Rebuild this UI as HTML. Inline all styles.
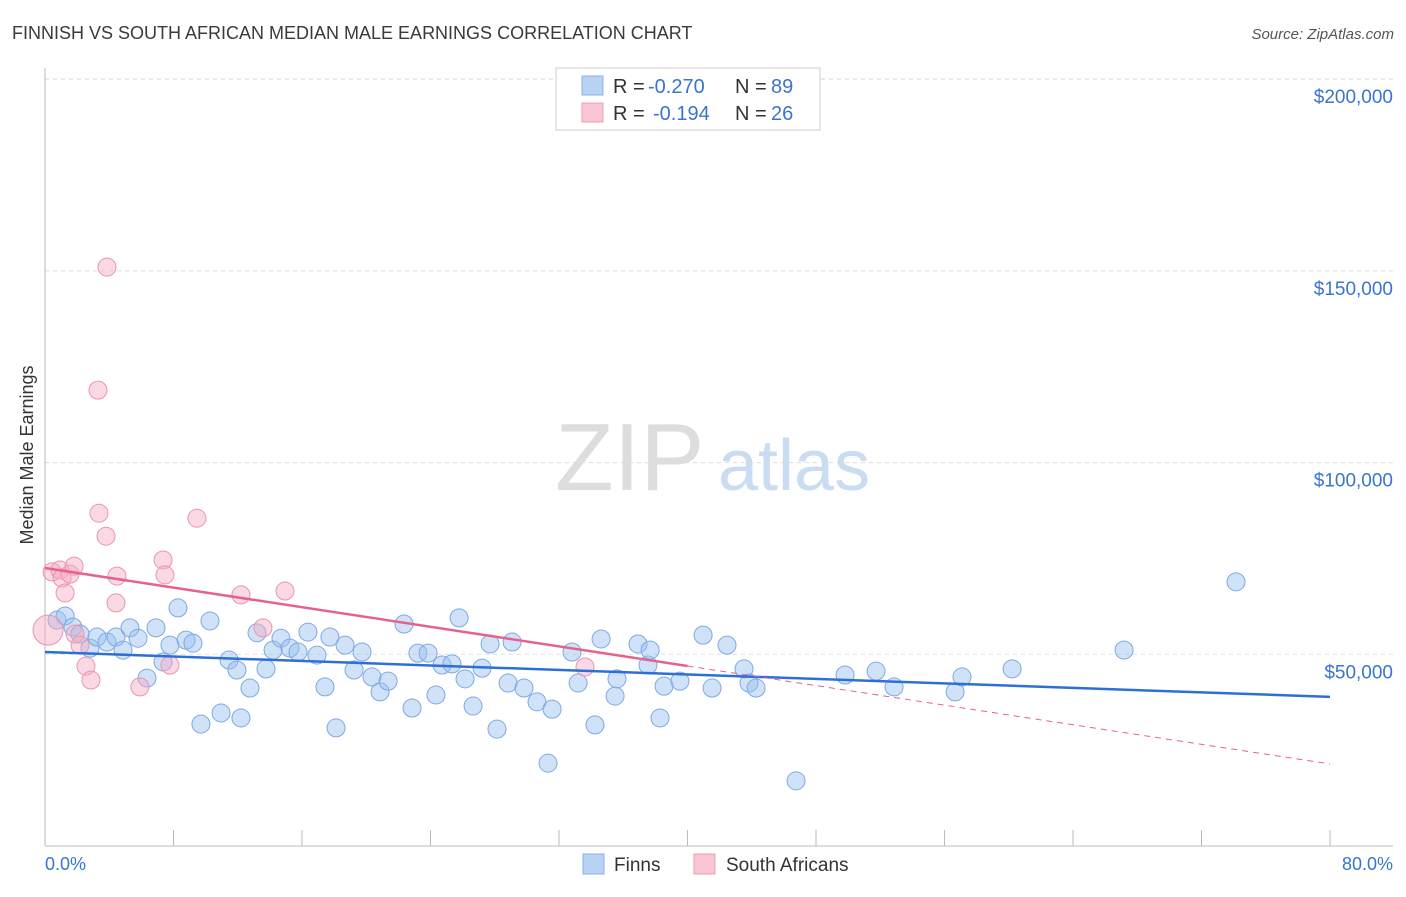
<!DOCTYPE html>
<html><head><meta charset="utf-8"><style>
body{margin:0;background:#fff;font-family:"Liberation Sans",sans-serif;}
svg text{font-family:"Liberation Sans",sans-serif;}
</style></head><body>
<svg id="c" width="1406" height="892" xmlns="http://www.w3.org/2000/svg">
<text x="12" y="39" font-size="18" fill="#3a3a3a">FINNISH VS SOUTH AFRICAN MEDIAN MALE EARNINGS CORRELATION CHART</text>
<text x="1394" y="39" font-size="15" fill="#555" text-anchor="end" font-style="italic">Source: ZipAtlas.com</text>
<text x="33" y="455" font-size="18" fill="#333" text-anchor="middle" transform="rotate(-90 33 455)">Median Male Earnings</text>
<text x="555" y="490" font-size="96" fill="#ddd" font-family="Liberation Serif">ZIP</text>
<text x="718" y="490" font-size="72" fill="#c9dcf2">atlas</text>
<g id="grid"></g><g id="axes"></g><g id="pts"></g><g id="trend"></g>
<g>
<rect x="556" y="68" width="264" height="62" fill="#fff" stroke="#ccc"/>
<rect x="582" y="76" width="21" height="19" fill="#b9d3f5" stroke="#8bb2e6"/>
<rect x="582" y="103" width="21" height="19" fill="#f9c6d4" stroke="#ec9fb5"/>
<text x="613" y="93" font-size="20" fill="#333">R =</text>
<text x="648" y="93" font-size="20" fill="#3a74d0">-0.270</text>
<text x="735" y="93" font-size="20" fill="#333">N =</text>
<text x="771" y="93" font-size="20" fill="#3a74d0">89</text>
<text x="613" y="120" font-size="20" fill="#333">R =</text>
<text x="653" y="120" font-size="20" fill="#3a74d0">-0.194</text>
<text x="735" y="120" font-size="20" fill="#333">N =</text>
<text x="771" y="120" font-size="20" fill="#3a74d0">26</text>
</g>
<g>
<rect x="583" y="854" width="21" height="20" fill="#b9d3f5" stroke="#8bb2e6"/>
<text x="614" y="871" font-size="19" fill="#333">Finns</text>
<rect x="694" y="854" width="21" height="20" fill="#f9c6d4" stroke="#ec9fb5"/>
<text x="726" y="871" font-size="19" fill="#333">South Africans</text>
</g>
<text x="45" y="870" font-size="18" fill="#3a74d0">0.0%</text>
<text x="1393" y="870" font-size="18" fill="#3a74d0" text-anchor="end">80.0%</text>
</svg>
<script>
const yTicks=[50000,100000,150000,200000];
const yTickLabels=["$50,000","$100,000","$150,000","$200,000"];
const finnX=[0.75,1.25,1.74,2.18,2.80,3.24,3.86,4.42,4.86,5.29,5.79,6.35,6.91,7.35,7.78,8.28,8.78,9.21,9.71,10.27,10.96,11.46,11.95,12.20,12.76,13.20,13.76,14.20,14.69,15.25,15.75,16.37,16.93,17.43,17.74,18.12,18.68,19.24,19.74,20.36,20.86,21.36,22.35,22.85,23.22,23.85,24.34,24.72,25.34,25.78,26.15,26.65,27.21,27.71,28.14,28.83,29.08,29.82,30.63,31.32,31.57,32.81,33.19,34.24,34.62,35.49,35.61,36.92,37.54,37.67,38.29,38.54,39.53,40.97,41.53,42.46,43.52,43.83,44.27,46.76,49.81,51.74,52.86,56.66,57.09,60.21,67.18,74.15];
const finnY=[58.9,60.0,57.1,55.3,51.6,54.5,53.2,54.5,51.1,56.9,54.2,43.8,56.9,48.0,52.4,62.1,53.7,52.9,31.8,58.7,34.7,48.5,45.9,33.4,41.2,55.6,46.2,51.1,54.2,51.6,50.6,55.8,49.8,41.5,54.5,30.8,52.4,45.9,50.6,44.1,40.2,43.0,57.9,36.0,50.3,50.3,39.4,47.2,47.5,59.5,43.6,36.5,46.4,52.7,30.5,42.5,53.2,41.2,37.6,21.6,35.7,50.6,42.5,31.6,54.0,39.1,43.6,52.7,47.2,51.1,33.4,41.7,43.0,55.0,41.2,52.4,46.2,42.5,41.2,17.0,44.6,45.6,41.5,40.2,44.1,46.2,51.1,68.9];
const saX=[0.19,0.44,0.93,1.06,1.25,1.56,1.81,1.87,2.18,2.55,2.86,3.30,3.36,3.80,3.86,4.42,4.48,5.91,7.35,7.47,7.78,9.46,12.20,13.57,14.94,33.62];
const saY=[56.3,71.5,72.0,69.9,66.0,70.9,73.0,55.3,52.4,46.9,43.3,118.9,86.8,80.8,151.0,63.4,70.4,41.5,74.6,70.7,47.2,85.5,65.5,56.9,66.5,46.7];
const finnTrend=[50.6,38.9];
const saTrend=[72.5,21.4];
const NS='http://www.w3.org/2000/svg';
const X=p=>45+p/80*1285;
const Y=v=>846-v/50000*191.7;
function mk(t,a,parent){const e=document.createElementNS(NS,t);for(const k in a)e.setAttribute(k,a[k]);document.getElementById(parent).appendChild(e);return e;}
yTicks.forEach((v,i)=>{
 const l=mk('line',{x1:45,x2:1393,y1:Y(v),y2:Y(v),stroke:'#ddd','stroke-dasharray':'4,4'},'grid');
 
 
 const t=mk('text',{x:1393,y:Y(v)+24,'font-size':19,fill:'#3a74d0','text-anchor':'end'},'grid');
 t.textContent=yTickLabels[i];
 
 
});
const topLine=mk('line',{x1:45,x2:1393,y1:79,y2:79,stroke:'#ddd','stroke-dasharray':'4,4'},'grid');


const ya=mk('line',{x1:45,x2:45,y1:68,y2:846,stroke:'#bbb'},'axes');


const xa=mk('line',{x1:45,x2:1393,y1:846,y2:846,stroke:'#bbb'},'axes');


for(let i=0;i<=10;i++){
 const t=mk('line',{x1:X(i*8),x2:X(i*8),y1:830,y2:846,stroke:'#bbb'},'axes');
 
 
}
finnX.forEach((x,i)=>{
 const c=mk('circle',{cx:X(x),cy:Y(finnY[i]*1000),r:9,fill:'rgba(150,190,240,0.45)',stroke:'#7ea9e2','stroke-width':1},'pts');
 
 
});
saX.forEach((x,i)=>{
 const c=mk('circle',{cx:X(x),cy:Y(saY[i]*1000),r:i===0?15:9,fill:'rgba(245,170,195,0.45)',stroke:'#e995b0','stroke-width':1},'pts');
 
 
});
const bt=mk('line',{x1:X(0),x2:X(80),y1:Y(finnTrend[0]*1000),y2:Y(finnTrend[1]*1000),stroke:'#2e6fd6','stroke-width':2.5},'trend');


const mid=saTrend[0]+(saTrend[1]-saTrend[0])*0.5;
const ps=mk('line',{x1:X(0),x2:X(40),y1:Y(saTrend[0]*1000),y2:Y(mid*1000),stroke:'#e4638d','stroke-width':2.5},'trend');


const pd=mk('line',{x1:X(40),x2:X(80),y1:Y(mid*1000),y2:Y(saTrend[1]*1000),stroke:'#e4638d','stroke-width':1,'stroke-dasharray':'6,5'},'trend');


</script>
</body></html>
